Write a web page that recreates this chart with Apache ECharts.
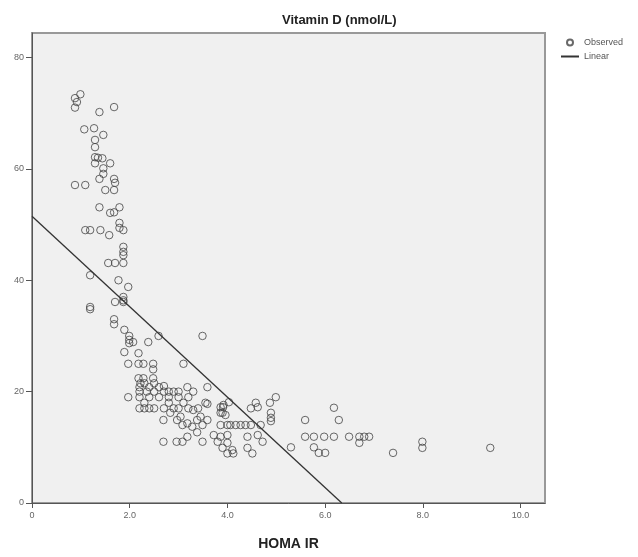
<!DOCTYPE html>
<html>
<head>
<meta charset="utf-8">
<script src="https://cdn.jsdelivr.net/npm/echarts@6/dist/echarts.min.js"></script>
<style>
  html, body { margin: 0; padding: 0; background: #fff; }
  #chart { width: 638px; height: 557px; }
</style>
</head>
<body>
<div id="chart"></div>
<script>
  // observed points: HOMA IR vs Vitamin D
  var homaIr = [
    0.99, 0.88, 0.92, 0.88, 1.38, 1.68,
    1.07, 1.27, 1.46, 1.29, 1.29, 1.29, 1.29, 1.35, 1.44, 1.60, 1.46, 1.46, 1.38, 1.68, 1.70, 0.88, 1.09, 1.50, 1.68,
    1.38, 1.60, 1.68, 1.79, 1.09, 1.19, 1.40, 1.58, 1.79, 1.79, 1.87, 1.87, 1.87, 1.87, 1.56, 1.70, 1.87, 1.19, 1.77, 1.97, 1.87, 1.87, 1.70, 1.87, 1.19, 1.19,
    1.68, 1.68, 1.89, 1.99, 1.99, 1.99, 2.07, 1.89, 2.18, 2.38, 2.59,
    1.97, 2.18, 2.28, 2.48, 2.48, 3.10, 3.49,
    2.18, 2.28, 2.48, 2.22, 2.30, 2.50, 2.70,
    2.20, 2.40, 2.60, 3.18, 3.59,
    2.20, 2.35, 2.50, 2.70, 2.80, 2.90, 3.00, 3.30,
    1.97, 2.20, 2.40, 2.60, 2.80, 3.00, 3.20,
    2.30, 2.80, 3.10, 3.55, 3.59,
    2.20, 2.30, 2.40, 2.50, 2.70, 2.90, 3.00, 3.20, 3.40, 3.86, 3.92,
    2.83, 3.04, 3.30, 3.45, 3.86, 3.96,
    2.69, 2.97, 3.18, 3.38, 3.59,
    3.08, 3.28, 3.49, 3.86, 4.06, 4.27, 4.48, 4.68, 4.00, 4.17, 4.37,
    3.38, 3.18, 3.72, 3.86, 4.00, 4.41, 4.62, 4.72,
    2.69, 2.96, 3.08, 3.49, 3.80, 4.00, 4.41, 3.90, 4.10, 4.00, 4.12, 4.51, 5.30,
    4.58, 4.62, 4.48, 4.87, 4.99, 4.89, 4.89, 4.89, 4.03, 3.91, 3.90,
    5.59, 5.59, 5.77, 5.98, 6.18, 6.49, 6.70, 6.80, 6.90, 6.70, 5.77, 5.87, 6.00, 6.18, 6.28, 7.39, 7.99, 7.99, 9.38
  ];
  var vitaminD = [
    73.4, 72.7, 72.0, 71.0, 70.2, 71.1,
    67.1, 67.3, 66.1, 65.2, 63.9, 62.1, 61.0, 62.0, 61.9, 61.0, 60.1, 59.1, 58.2, 58.2, 57.5, 57.1, 57.1, 56.2, 56.2,
    53.1, 52.1, 52.2, 53.1, 49.0, 49.0, 49.0, 48.1, 50.3, 49.4, 49.0, 46.0, 45.1, 44.5, 43.1, 43.1, 43.1, 40.9, 40.0, 38.8, 37.0, 36.4, 36.1, 36.1, 35.2, 34.8,
    33.0, 32.1, 31.1, 30.0, 29.3, 28.7, 28.9, 27.1, 26.9, 28.9, 30.0,
    25.0, 25.0, 25.0, 25.0, 24.0, 25.0, 30.0,
    22.4, 22.4, 22.4, 21.5, 21.5, 21.5, 21.0,
    20.8, 20.8, 20.8, 20.8, 20.8,
    20.0, 20.0, 20.0, 20.0, 20.0, 20.0, 20.0, 20.0,
    19.0, 19.0, 19.0, 19.0, 19.0, 19.0, 19.0,
    18.0, 18.0, 18.0, 18.0, 17.8,
    17.0, 17.0, 17.0, 17.0, 17.0, 17.0, 17.0, 17.0, 17.0, 17.2, 17.6,
    16.2, 15.5, 16.7, 15.5, 16.2, 15.8,
    14.9, 14.9, 14.3, 14.9, 14.9,
    14.0, 13.7, 14.0, 14.0, 14.0, 14.0, 14.0, 14.0, 14.0, 14.0, 14.0,
    12.7, 11.9, 12.2, 11.9, 12.2, 11.9, 12.2, 11.0,
    11.0, 11.0, 11.0, 11.0, 11.0, 10.8, 9.9, 9.9, 9.5, 8.9, 8.9, 8.9, 10.0,
    18.0, 17.2, 17.0, 18.0, 19.0, 16.2, 15.3, 14.7, 18.1, 17.2, 16.2,
    14.9, 11.9, 11.9, 11.9, 11.9, 11.9, 11.9, 11.9, 11.9, 10.8, 10.0, 9.0, 9.0, 17.1, 14.9, 9.0, 11.0, 9.9, 9.9
  ];

  // fitted linear line end points
  var fitX = [0, 6.34];
  var fitY = [51.5, 0];

  var xTicks = [0, 2, 4, 6, 8, 10];
  var yTicks = [0, 20, 40, 60, 80];

  var chart = echarts.init(document.getElementById('chart'));

  var observed = homaIr.map(function (x, i) { return [x, vitaminD[i]]; });
  var linear = fitX.map(function (x, i) { return [x, fitY[i]]; });

  var labelFont = {
    color: '#666',
    fontSize: 9,
    fontFamily: 'Liberation Sans, Arial, sans-serif'
  };

  chart.setOption({
    animation: false,
    backgroundColor: '#fff',
    title: {
      text: 'Vitamin D (nmol/L)',
      left: 277,
      top: 9,
      textStyle: {
        fontSize: 13,
        fontWeight: 'bold',
        color: '#222',
        fontFamily: 'Liberation Sans, Arial, sans-serif'
      }
    },
    legend: {
      orient: 'vertical',
      left: 555,
      top: 33,
      itemWidth: 18,
      itemHeight: 6,
      itemGap: 5,
      textStyle: {
        color: '#555',
        fontSize: 9,
        fontFamily: 'Liberation Sans, Arial, sans-serif'
      },
      data: [
        { name: 'Observed', icon: 'circle' },
        { name: 'Linear', itemStyle: { opacity: 0 } }
      ]
    },
    grid: {
      left: 32,
      top: 33,
      right: 93,
      bottom: 54,
      show: true,
      backgroundColor: '#f0f0f0',
      borderColor: '#999',
      borderWidth: 2
    },
    xAxis: {
      type: 'value',
      min: 0,
      max: 10.5,
      interval: 2,
      name: 'HOMA IR',
      nameLocation: 'middle',
      nameGap: 34,
      nameTextStyle: {
        fontSize: 14,
        fontWeight: 'bold',
        color: '#222',
        fontFamily: 'Liberation Sans, Arial, sans-serif'
      },
      axisLine: { lineStyle: { color: '#555', width: 1 } },
      axisTick: { length: 5, lineStyle: { color: '#555' } },
      axisLabel: Object.assign({
        margin: 8,
        showMaxLabel: false,
        formatter: function (v) {
          if (xTicks.indexOf(v) < 0) return '';
          return v === 0 ? '0' : v.toFixed(1);
        }
      }, labelFont),
      splitLine: { show: false }
    },
    yAxis: {
      type: 'value',
      min: 0,
      max: 84.4,
      interval: 20,
      axisLine: { show: true, lineStyle: { color: '#555', width: 1 } },
      axisTick: { show: true, length: 6, lineStyle: { color: '#555' } },
      axisLabel: Object.assign({
        margin: 8,
        showMaxLabel: false,
        formatter: function (v) {
          return yTicks.indexOf(v) < 0 ? '' : String(v);
        }
      }, labelFont),
      splitLine: { show: false }
    },
    series: [
      {
        name: 'Observed',
        type: 'scatter',
        symbol: 'circle',
        symbolSize: 7.5,
        data: observed,
        itemStyle: {
          color: 'rgba(0,0,0,0)',
          borderColor: '#444',
          borderWidth: 1
        },
        emphasis: { disabled: true }
      },
      {
        name: 'Linear',
        type: 'line',
        symbol: 'none',
        data: linear,
        lineStyle: { color: '#333', width: 1.3 },
        itemStyle: { color: '#333' }
      }
    ]
  });
</script>
</body>
</html>
